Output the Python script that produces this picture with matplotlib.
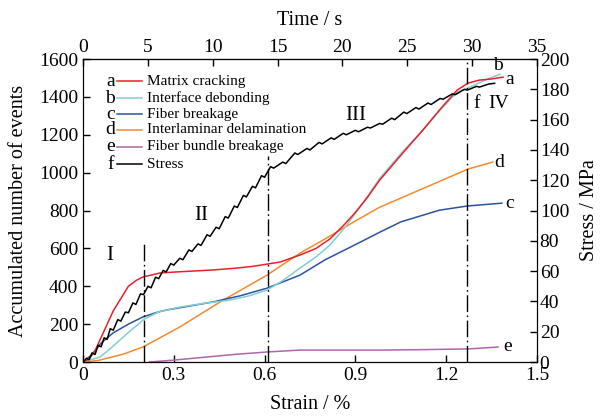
import matplotlib
matplotlib.use('Agg')
from matplotlib import pyplot as plt

plt.rcParams['font.family'] = ['Liberation Serif', 'DejaVu Serif']

# accumulated AE events vs strain (%)
red_x = [0, 0.02, 0.04, 0.056, 0.08, 0.10, 0.122, 0.15, 0.178, 0.198, 0.254, 0.30, 0.429, 0.50, 0.56,
         0.608, 0.651, 0.717, 0.77, 0.816, 0.86, 0.90, 0.94, 0.98, 1.02, 1.06, 1.123, 1.18, 1.236, 1.272,
         1.31, 1.35, 1.388]
red_y = [0, 15, 60, 116, 200, 270, 327, 400, 433, 449, 470, 475, 486, 495, 505,
         517, 528, 565, 600, 650, 720, 790, 870, 960, 1035, 1110, 1225, 1335, 1436, 1473,
         1489, 1495, 1505]

cyan_x = [0, 0.056, 0.09, 0.122, 0.16, 0.188, 0.198, 0.25, 0.32, 0.40, 0.486, 0.55, 0.608, 0.66, 0.717,
          0.77, 0.816, 0.86, 0.90, 0.94, 0.981, 1.05, 1.123, 1.18, 1.236, 1.272, 1.33, 1.378]
cyan_y = [0, 26, 70, 116, 170, 206, 222, 265, 290, 310, 327, 350, 380, 430, 496,
          555, 618, 700, 785, 875, 971, 1100, 1225, 1330, 1425, 1447, 1490, 1520]

blue_x = [0, 0.03, 0.06, 0.099, 0.15, 0.198, 0.25, 0.277, 0.35, 0.429, 0.52, 0.608, 0.717, 0.80, 0.90,
          0.981, 1.05, 1.178, 1.27, 1.384]
blue_y = [0, 40, 100, 153, 200, 238, 265, 275, 295, 317, 350, 390, 459, 540, 620,
          686, 740, 802, 824, 839]

orange_x = [0, 0.05, 0.13, 0.198, 0.32, 0.453, 0.608, 0.717, 0.80, 0.90, 0.981, 1.10, 1.272, 1.354]
orange_y = [0, 8, 40, 79, 185, 317, 459, 575, 650, 745, 818, 900, 1019, 1056]

purple_x = [0.22, 0.30, 0.40, 0.50, 0.608, 0.717, 0.90, 0.981, 1.10, 1.272, 1.371]
purple_y = [0, 10, 25, 40, 53, 63, 63, 63, 65, 69, 79]

# stress (MPa) vs strain (%)
stress_x = [0, 0.012, 0.02, 0.03, 0.04, 0.05, 0.06, 0.07, 0.08, 0.09, 0.10, 0.115, 0.125, 0.14, 0.15,
            0.165, 0.175, 0.19, 0.20, 0.215, 0.225, 0.24, 0.25, 0.265, 0.275, 0.29, 0.30, 0.32, 0.33,
            0.35, 0.36, 0.38, 0.39, 0.41, 0.42, 0.44, 0.45, 0.47, 0.48, 0.50, 0.51, 0.53, 0.54, 0.56,
            0.57, 0.59, 0.60, 0.62, 0.63, 0.66, 0.67, 0.70, 0.71, 0.74, 0.75, 0.78, 0.79, 0.82, 0.83,
            0.86, 0.87, 0.90, 0.91, 0.94, 0.95, 0.98, 0.99, 1.02, 1.03, 1.06, 1.07, 1.10, 1.11, 1.14,
            1.15, 1.18, 1.19, 1.22, 1.23, 1.26, 1.27, 1.30, 1.31, 1.34, 1.36]
stress_y = [0, 2.5, 1.5, 6, 5, 11, 10, 16, 15, 22, 21, 28, 27, 33, 32.5,
            39, 38, 45, 44.5, 50, 49, 56, 55, 60.5, 59.5, 65, 64, 68.5, 67.5,
            74, 73, 78, 77, 84, 83, 89, 88, 96, 95, 103, 102, 110, 109, 116,
            115, 123, 122, 129, 128, 132, 131, 138, 137, 141, 140, 145, 144, 148, 147,
            151, 150, 153, 152, 155, 154.5, 157.5, 157, 161, 160, 165, 164, 168, 167, 171,
            170, 174, 173.5, 177, 176.5, 180, 179.5, 182, 181.5, 183.5, 184]

stage_x = [0.2, 0.61, 1.27]
stage_top = [640, 1090, 1600]

labels = ['Matrix cracking', 'Interface debonding', 'Fiber breakage',
          'Interlaminar delamination', 'Fiber bundle breakage', 'Stress']
letters = ['a', 'b', 'c', 'd', 'e', 'f']
colors = ['#e8202a', '#80d0d0', '#2b52a3', '#f58a2c', '#b064aa', 'black']

fig = plt.figure(figsize=(6.03, 4.19), dpi=100)
ax = fig.add_axes([0.1376, 0.136, 0.7529, 0.723])

ax.plot(purple_x, purple_y, color=colors[4], lw=1.1)
ax.plot(orange_x, orange_y, color=colors[3], lw=1.1)
ax.plot(blue_x, blue_y, color=colors[2], lw=1.1)
ax.plot(cyan_x, cyan_y, color=colors[1], lw=1.1)
ax.plot(red_x, red_y, color=colors[0], lw=1.1)

ax.vlines(stage_x, 0, stage_top, colors='black', lw=1.0,
          linestyles=[(0, (12, 2.5, 1.2, 2.5))])

ax.set_xlim(0, 1.5)
ax.set_ylim(0, 1600)
ax.set_xticks([0, 0.3, 0.6, 0.9, 1.2, 1.5])
ax.set_xticklabels(['0', '0.3', '0.6', '0.9', '1.2', '1.5'])
ax.set_yticks(range(0, 1601, 200))
ax.tick_params(direction='in', labelsize=14, length=5, width=1)
ax.set_xlabel('Strain / %', fontsize=14.5, labelpad=8)
ax.set_ylabel('Accumulated number of events', fontsize=14.5, labelpad=8)

ax2 = ax.twinx()
ax2.plot(stress_x, stress_y, color='black', lw=1.1)
ax2.set_ylim(0, 200)
ax2.set_yticks(range(0, 201, 20))
ax2.tick_params(direction='in', labelsize=14, length=5, width=1, pad=2)
ax2.set_ylabel('Stress / MPa', fontsize=14.5, labelpad=8)

top = ax.secondary_xaxis('top', functions=(lambda s: s * 35 / 1.5, lambda t: t * 1.5 / 35))
top.set_xticks(range(0, 36, 5))
top.tick_params(direction='in', labelsize=14, length=5, width=1, pad=2)
top.set_xlabel('Time / s', fontsize=14.5, labelpad=10)

# end labels of curves
ax.text(1.372, 1565, 'b', fontsize=14, ha='center', va='center')
ax.text(1.41, 1490, 'a', fontsize=14, ha='center', va='center')
ax.text(1.36, 1056, 'd', fontsize=14, ha='left', va='center')
ax.text(1.395, 839, 'c', fontsize=14, ha='left', va='center')
ax.text(1.39, 84, 'e', fontsize=14, ha='left', va='center')
ax.text(1.30, 1365, 'f', fontsize=14, ha='center', va='center')
ax.text(1.375, 1365, 'IV', fontsize=14, ha='center', va='center')

ax.text(0.089, 565, 'I', fontsize=15, ha='center', va='center')
ax.text(0.39, 775, 'II', fontsize=15, ha='center', va='center')
ax.text(0.90, 1304, 'III', fontsize=15, ha='center', va='center')

# legend drawn by hand
rows = [0.927, 0.871, 0.818, 0.766, 0.710, 0.653]
for yy, let, lab, col in zip(rows, letters, labels, colors):
    ax.text(0.060, yy, let, transform=ax.transAxes, fontsize=14, ha='center', va='center')
    ax.plot([0.075, 0.130], [yy, yy], color=col, lw=1.1, transform=ax.transAxes)
    ax.text(0.141, yy, lab, transform=ax.transAxes, fontsize=11, ha='left', va='center')

fig.savefig('out.png', dpi=100)
